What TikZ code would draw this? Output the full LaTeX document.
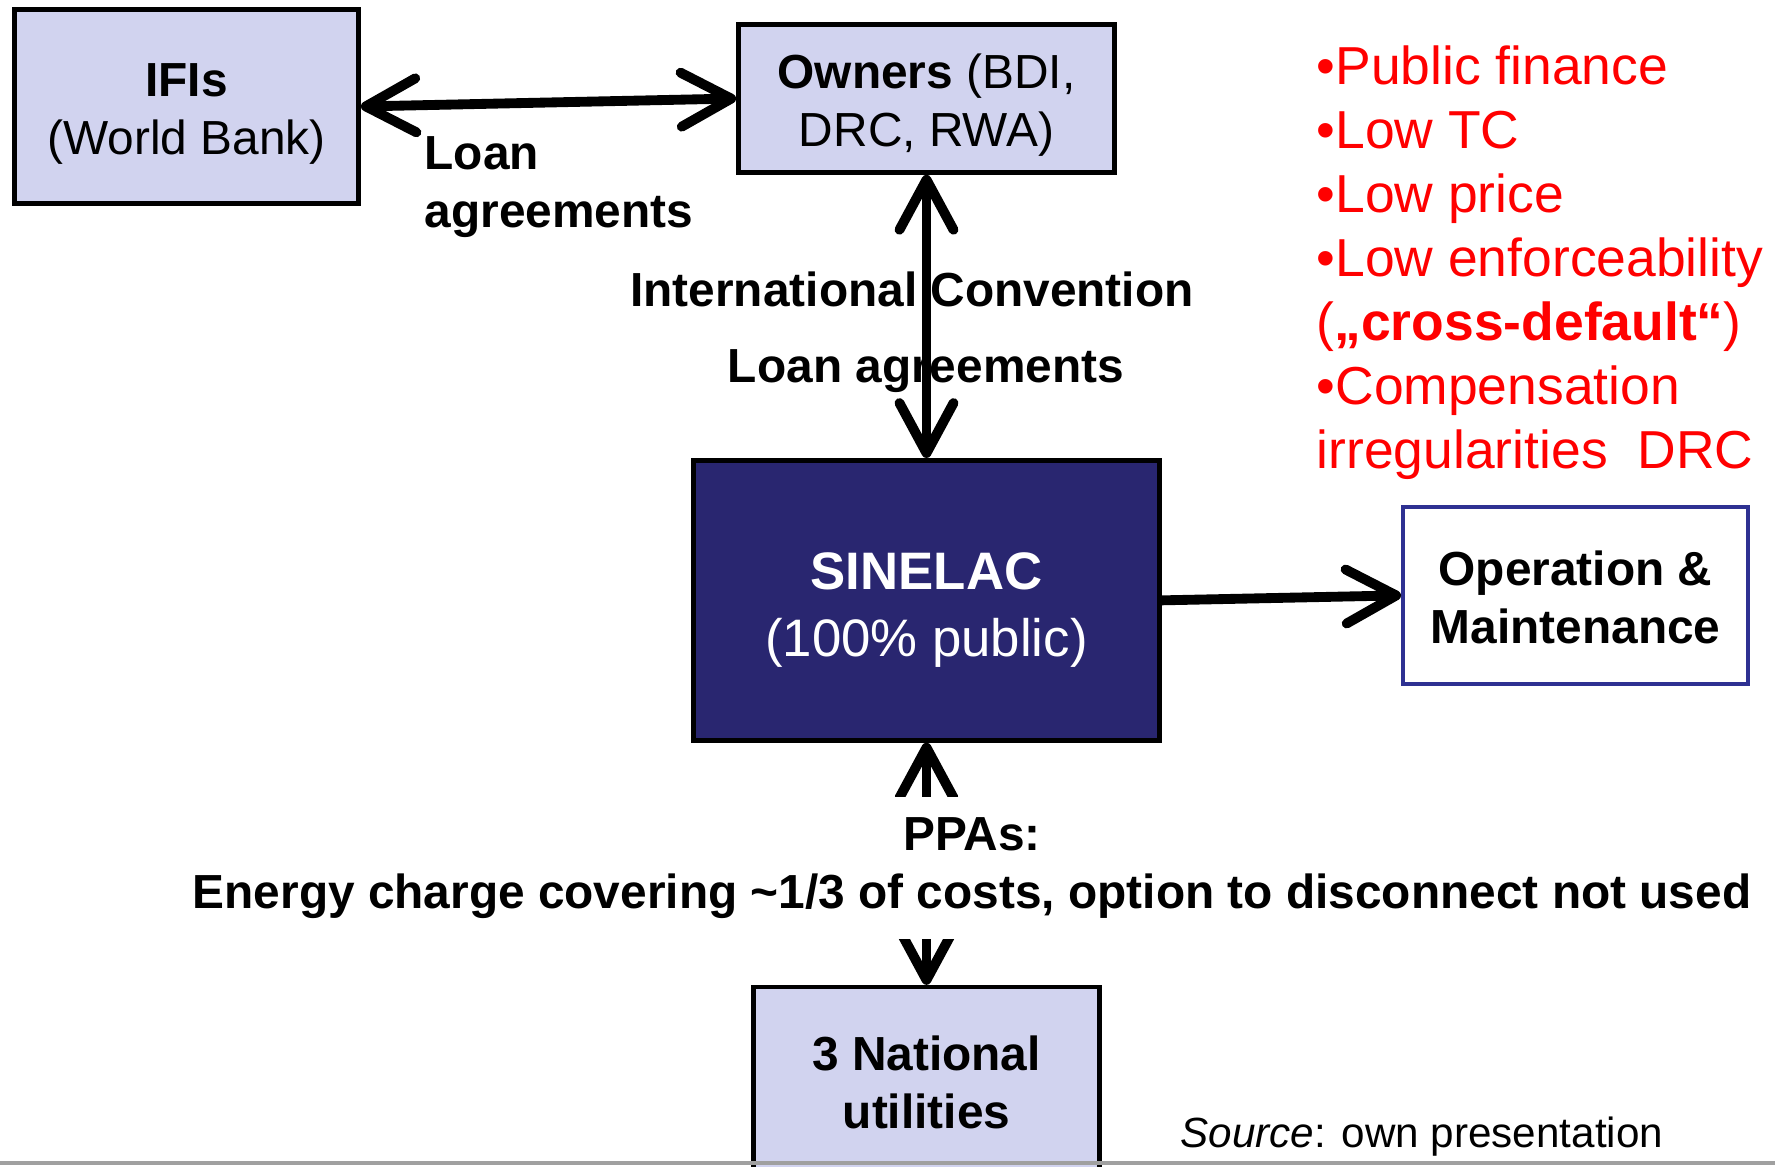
\documentclass[tikz,border=0pt]{standalone}
\usepackage{fontspec}
\setmainfont{Liberation Sans}
\usetikzlibrary{arrows.meta,positioning}
\definecolor{sinelacLightBlue}{RGB}{209,211,239}
\definecolor{sinelacNavy}{RGB}{41,38,112}
\definecolor{sinelacFrameBlue}{RGB}{46,49,146}
\definecolor{sinelacRed}{RGB}{255,0,0}
\definecolor{sinelacRule}{RGB}{160,160,160}
\newcommand{\boxfont}{\fontsize{13.6pt}{16.5pt}\selectfont}
\newcommand{\bigboxfont}{\fontsize{15pt}{18.8pt}\selectfont}
\newcommand{\riskfont}{\fontsize{15.2pt}{18.2pt}\selectfont}
\newcommand{\boxstrut}[1]{\rule{0pt}{#1}}

\begin{document}
\begin{tikzpicture}[
  x=0.01cm,y=-0.01cm,
  party/.style={
    draw,
    line width=1.3pt,
    fill=sinelacLightBlue,
    inner sep=0pt,
    align=center,
    font=\boxfont
  },
  label text/.style={inner sep=0pt,font=\boxfont\bfseries},
  dblarrow/.style={{Straight Barb[length=5mm,width=5.4mm,round]}-{Straight Barb[length=5mm,width=5.4mm,round]},line width=2.8pt},
  arrow/.style={-{Straight Barb[length=5mm,width=5.4mm,round]},line width=2.8pt}
]
  \useasboundingbox (0,0) rectangle (1775,1167);
  \node[party,minimum width=3.76cm,minimum height=1.48cm] (owners) at (926.5,98.5) {\boxstrut{13.6pt}\textbf{Owners} (BDI,\\DRC, RWA)};
  \node[party,minimum width=3.44cm,minimum height=1.94cm,left=3.75cm of owners,yshift=-0.08cm] (ifis) {\boxstrut{13.8pt}\textbf{IFIs}\\(World Bank)};
  \node[party,fill=sinelacNavy,text=white,font=\bigboxfont,minimum width=4.66cm,minimum height=2.8cm,below=2.83cm of owners] (sinelac) {\boxstrut{16pt}\textbf{SINELAC}\\(100\% public)};
  \node[party,draw=sinelacFrameBlue,fill=white,line width=1.1pt,font=\boxfont\bfseries,minimum width=3.45cm,minimum height=1.77cm,right=2.39cm of sinelac,yshift=0.05cm] (om) {\boxstrut{11pt}Operation \&\\Maintenance};
  \node[party,font=\boxfont\bfseries,minimum width=3.46cm,minimum height=1.86cm,below=2.42cm of sinelac] (utilities) {\boxstrut{11pt}3 National\\utilities};

  % labels of the contracts
  \node[label text,anchor=west,align=left] (loanifis) at (424,187) {Loan\\agreements};
  \node[label text,anchor=base] (intconv) at (912,307) {International Convention};
  \node[label text,anchor=base] (loanowners) at (926,383) {Loan agreements};

  \draw[dblarrow] (ifis.east) -- (owners.west);
  \draw[dblarrow] (owners.south) -- (sinelac.north);
  \draw[arrow] (sinelac.east) -- (om.west);
  \draw[dblarrow] (sinelac.south) -- (utilities.north);
  \node[label text,fill=white,align=center,inner xsep=2pt,inner ysep=0.2cm] (ppas) at (972,868) {PPAs:\\Energy charge covering \textasciitilde1/3 of costs, option to disconnect not used};

  % problems
  \node[inner sep=0pt,anchor=west,align=left,text=sinelacRed,font=\riskfont] (risks) at (1316,263) {•Public finance\\•Low TC\\•Low price\\•Low enforceability\\(\textbf{„cross-default“})\\•Compensation\\irregularities\ \ DRC};

  \node[inner sep=0pt,anchor=base west,font=\fontsize{12pt}{14pt}\selectfont] (source) at (1180,1147) {\textit{Source}: own presentation};
  \draw[sinelacRule,line width=1.1pt] (0,1163) -- (1775,1163);
\end{tikzpicture}
\end{document}
